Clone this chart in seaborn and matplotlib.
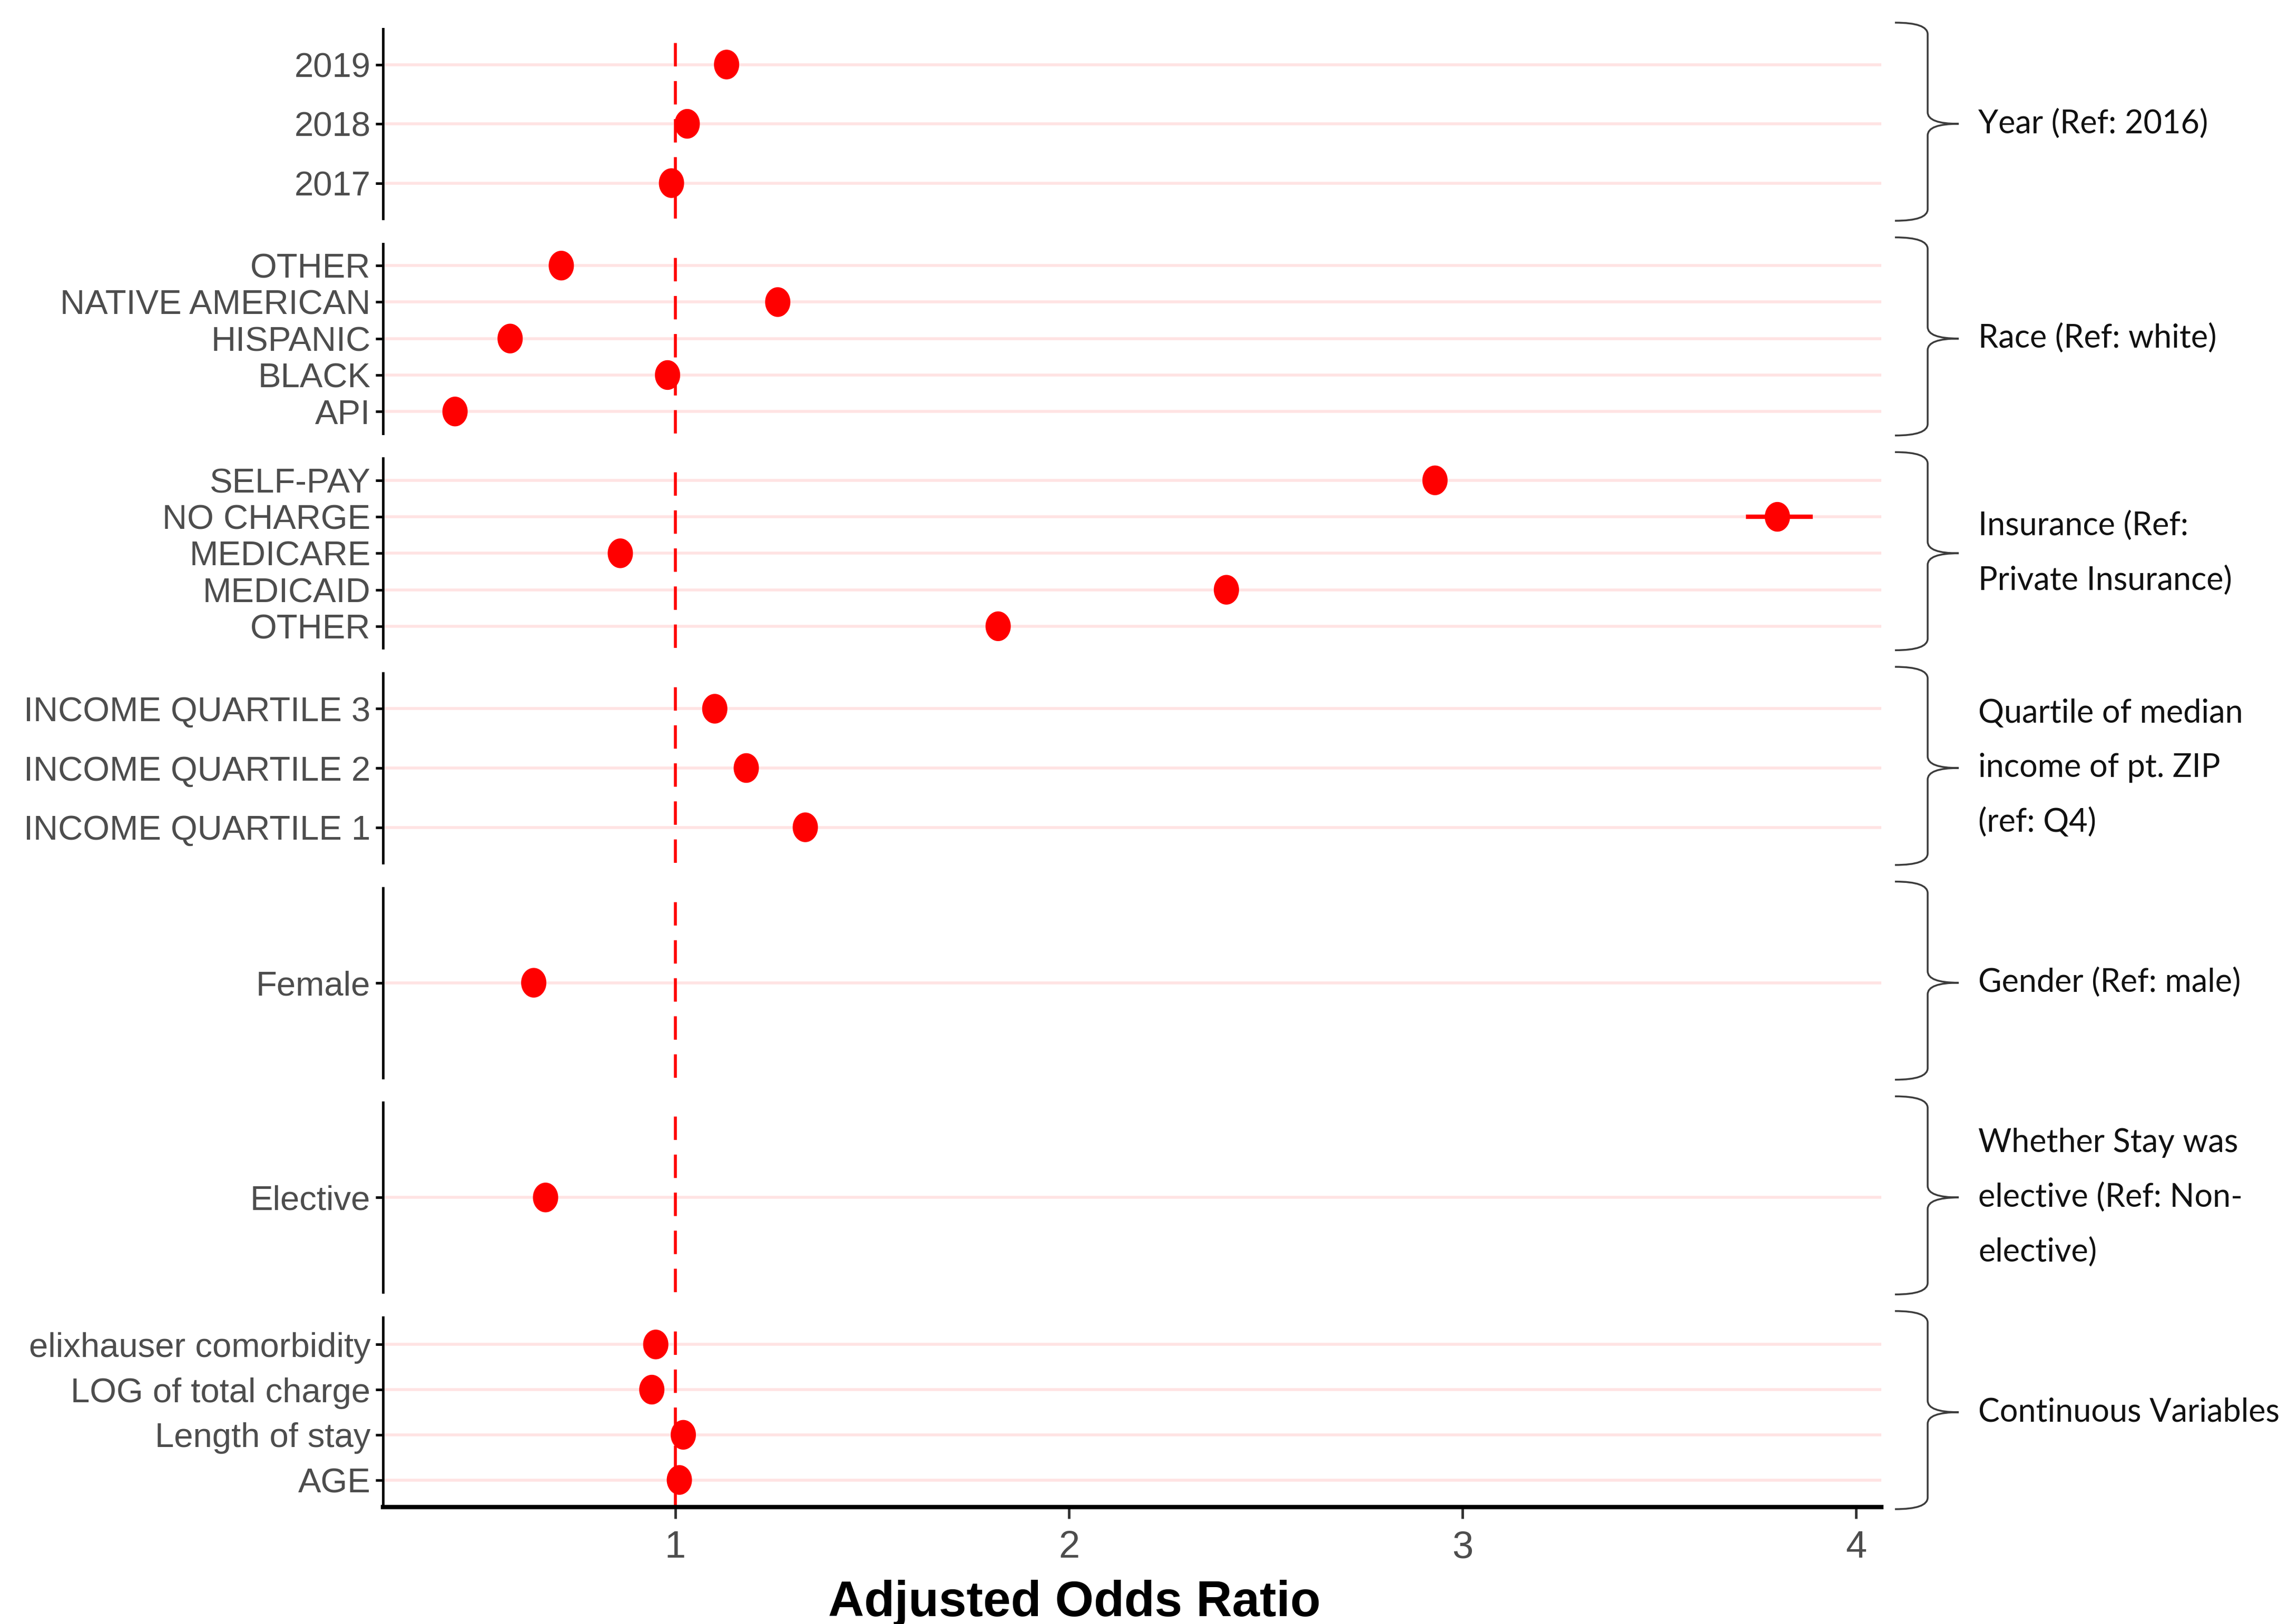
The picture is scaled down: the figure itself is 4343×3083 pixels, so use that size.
import numpy as np
import pandas as pd
import matplotlib
matplotlib.use("Agg")
import matplotlib.pyplot as plt
import seaborn as sns
from matplotlib.path import Path
from matplotlib.patches import PathPatch
from matplotlib import font_manager


# ---------------------------------------------------------------------
# Data (listed top to bottom inside each panel)
# ---------------------------------------------------------------------
year_labels = ["2019", "2018", "2017"]
year_or = [1.13, 1.03, 0.99]

race_labels = ["OTHER", "NATIVE AMERICAN", "HISPANIC", "BLACK", "API"]
race_or = [0.71, 1.26, 0.58, 0.98, 0.44]

insurance_labels = ["SELF-PAY", "NO CHARGE", "MEDICARE", "MEDICAID", "OTHER"]
insurance_or = [2.93, 3.80, 0.86, 2.40, 1.82]

income_labels = ["INCOME QUARTILE 3", "INCOME QUARTILE 2", "INCOME QUARTILE 1"]
income_or = [1.10, 1.18, 1.33]

gender_labels = ["Female"]
gender_or = [0.64]

elective_labels = ["Elective"]
elective_or = [0.67]

continuous_labels = ["elixhauser comorbidity", "LOG of total charge", "Length of stay", "AGE"]
continuous_or = [0.95, 0.94, 1.02, 1.01]

# the only confidence interval wider than its dot
ci_label = "NO CHARGE"
ci_low = 3.72
ci_high = 3.89

group_titles = [
    "Year (Ref: 2016)",
    "Race (Ref: white)",
    "Insurance (Ref:\nPrivate Insurance)",
    "Quartile of median\nincome of pt. ZIP\n(ref: Q4)",
    "Gender (Ref: male)",
    "Whether Stay was\nelective (Ref: Non-\nelective)",
    "Continuous Variables",
]

x_ticks = [1, 2, 3, 4]

panels = [
    (year_labels, year_or),
    (race_labels, race_or),
    (insurance_labels, insurance_or),
    (income_labels, income_or),
    (gender_labels, gender_or),
    (elective_labels, elective_or),
    (continuous_labels, continuous_or),
]

# ---------------------------------------------------------------------
# Style
# ---------------------------------------------------------------------
sns.set_style("white")
names = {f.name for f in font_manager.fontManager.ttflist}
if "Liberation Sans Narrow" in names:
    tick_font, tick_size = "Liberation Sans Narrow", 57
else:
    tick_font, tick_size = "Liberation Sans", 47
plt.rcParams["font.family"] = [tick_font, "DejaVu Sans"]

# slightly tall dot, like the stretched original
t = np.linspace(0, 2 * np.pi, 80)
dot = Path(np.column_stack([0.85 * np.cos(t), np.sin(t)]), closed=True)

W, H = 4343, 3083
fig, axes = plt.subplots(
    len(panels), 1, figsize=(W / 100, H / 100), dpi=100, sharex=True,
    gridspec_kw={"hspace": 0.132},
)
fig.subplots_adjust(left=727 / W, right=3571 / W, top=1 - 55 / H, bottom=1 - 2861 / H)

for i, (ax, (labels, values)) in enumerate(zip(axes, panels)):
    df = pd.DataFrame({"label": labels, "odds": values})
    ax.axvline(1, color="red", lw=4, dashes=(8, 5), zorder=2)
    sns.scatterplot(data=df, x="odds", y="label", ax=ax, color="red",
                    marker=dot, s=1650, edgecolor="none", zorder=4, legend=False)
    if ci_label in labels and i == 2:
        ax.hlines(ci_label, ci_low, ci_high, color="red", lw=6, zorder=3)

    ax.set_ylim(len(labels) - 0.4, -0.6)
    ax.set_xlim(0.257, 4.064)
    ax.set_axisbelow(True)
    ax.yaxis.grid(True, color="#ffe3e3", lw=4)
    ax.xaxis.grid(False)
    ax.set_xlabel("")
    ax.set_ylabel("")

    for side in ["top", "right", "bottom"]:
        ax.spines[side].set_visible(False)
    ax.spines["left"].set_color("black")
    ax.spines["left"].set_linewidth(3.5)

    ax.tick_params(axis="y", left=True, length=10, width=3.5, color="black",
                   pad=7, labelsize=tick_size, labelcolor="#4d4d4d")
    ax.tick_params(axis="x", bottom=False, labelbottom=False)

# bottom axis
ax = axes[-1]
ax.spines["bottom"].set_visible(True)
ax.spines["bottom"].set_color("black")
ax.spines["bottom"].set_linewidth(6)
ax.set_xticks(x_ticks)
ax.set_xticklabels([str(v) for v in x_ticks])
ax.tick_params(axis="x", bottom=True, labelbottom=True, length=16, width=3.5,
               color="#333333", pad=16, labelsize=52, labelcolor="#4d4d4d")

fig.text(2039 / W, 0.005, "Adjusted Odds Ratio", ha="center", va="baseline",
         fontsize=68, fontweight="bold", color="black",
         family=["Liberation Sans", "DejaVu Sans"])

# ---------------------------------------------------------------------
# Braces with group names on the right
# ---------------------------------------------------------------------
x0, xs, xt = 3597 / W, 3659 / W, 3718 / W
r = 22 / H
for ax, title in zip(axes, group_titles):
    pos = ax.get_position()
    top, bot = pos.y1 + 12 / H, pos.y0 - 4 / H
    mid = (pos.y0 + pos.y1) / 2
    verts = [
        (x0, top), (xs, top), (xs, top - r),
        (xs, mid + r),
        (xs, mid), (xt, mid),
        (xs, mid), (xs, mid - r),
        (xs, bot + r),
        (xs, bot), (x0, bot),
    ]
    codes = [Path.MOVETO, Path.CURVE3, Path.CURVE3, Path.LINETO,
             Path.CURVE3, Path.CURVE3, Path.CURVE3, Path.CURVE3,
             Path.LINETO, Path.CURVE3, Path.CURVE3]
    brace = PathPatch(Path(verts, codes), transform=fig.transFigure,
                      fill=False, edgecolor="#3c3c3c", lw=2.5)
    fig.add_artist(brace)
    fig.text(3755 / W, mid, title, ha="left", va="center", fontsize=44,
             color="#111111", linespacing=2.0, family=["Lato", "DejaVu Sans"])

fig.savefig("out.png", dpi=100)
